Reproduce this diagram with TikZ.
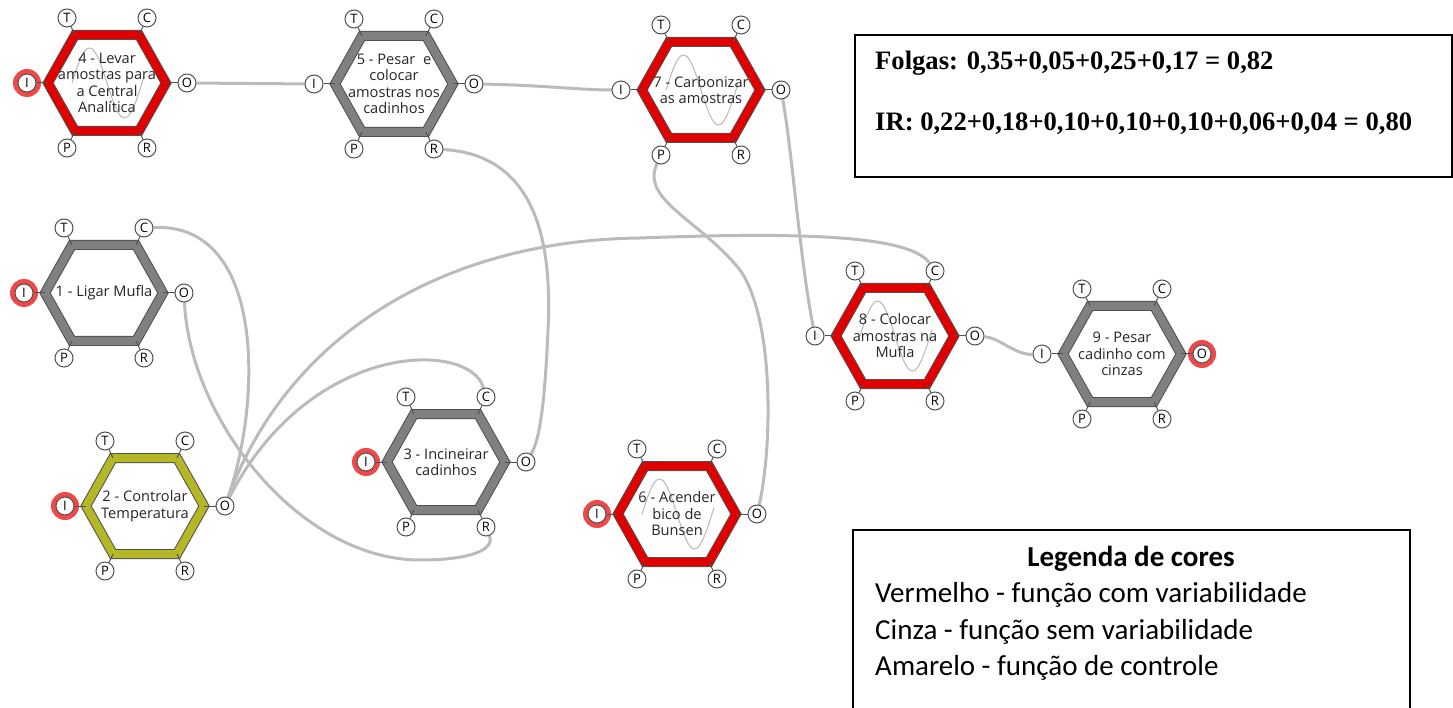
\documentclass[tikz,border=0pt]{standalone}
\usepackage{fontspec}
\setmainfont{Open Sans}
\newfontfamily\boxfont{Liberation Serif}
\newfontfamily\legfont{Carlito}
\pgfdeclarelayer{back}
\pgfsetlayers{back,main}

\definecolor{fnred}{RGB}{224,0,0}
\definecolor{fngray}{RGB}{128,128,128}
\definecolor{fnyellow}{RGB}{180,184,38}
\definecolor{edgegray}{RGB}{80,80,80}
\definecolor{linkgray}{RGB}{187,187,187}
\definecolor{ringred}{RGB}{240,72,72}

\tikzset{
  hexedge/.style={draw=edgegray, line width=1pt, double=#1, double distance=8pt,
    line join=miter, fill=white},
  port/.style={circle, draw=edgegray, fill=white, line width=1pt, minimum size=18pt,
    inner sep=0pt, font=\fontsize{13}{13}\selectfont},
  portlink/.style={draw=edgegray, line width=1pt},
  link/.style={draw=linkgray, line width=3pt},
  wave/.style={draw=black!28, line width=1pt},
  fntext/.style={align=center, font=\fontsize{14.6}{16.5}\selectfont, text=black!85},
  boxtext/.style={anchor=base west, inner sep=0pt, font=\boxfont\bfseries\fontsize{26.6}{30}\selectfont},
  legtext/.style={anchor=base west, inner sep=0pt, font=\legfont\fontsize{29}{33}\selectfont},
}

% one FRAM function: name, x, y, colour, wave (1/0), text
\newcommand\framfn[6]{%
  \begin{scope}[shift={(#2,#3)}]
    \draw[hexedge=#4] (-59,0) -- (-32,-48) -- (32,-48) -- (59,0) -- (32,48) -- (-32,48) -- cycle;
    \ifnum#5=1
      \draw[wave] plot[domain=-35:37, samples=40, smooth] (\x, {35*sin(\x*360/70)});
    \fi
    \node[fntext] (#1) at (0,0) {#6};
    \node[port] (#1I) at (-80,0) {I};
    \node[port] (#1O) at (80,0) {O};
    \node[port] (#1T) at (-40,-65) {T};
    \node[port] (#1C) at (40,-65) {C};
    \node[port] (#1P) at (-40,65) {P};
    \node[port] (#1R) at (40,65) {R};
    \draw[portlink] (#1I) -- (-59,0);
    \draw[portlink] (#1O) -- (59,0);
    \draw[portlink] (#1T) -- (-32,-48);
    \draw[portlink] (#1C) -- (32,-48);
    \draw[portlink] (#1P) -- (-32,48);
    \draw[portlink] (#1R) -- (32,48);
  \end{scope}}

\begin{document}
\begin{tikzpicture}[x=1pt, y=-1pt]
\useasboundingbox (0,0) rectangle (1453,708);

% Functions
\framfn{f4}{107}{83}{fnred}{1}{4 - Levar\\amostras para\\a Central\\Analítica}
\framfn{f5}{394}{84}{fngray}{0}{5 - Pesar\ \ e\\colocar\\amostras nos\\cadinhos}
\framfn{f7}{701}{90}{fnred}{1}{7 - Carbonizar\\as amostras}
\framfn{f1}{104}{293}{fngray}{0}{1 - Ligar Mufla}
\framfn{f2}{145}{506}{fnyellow}{0}{2 - Controlar\\Temperatura}
\framfn{f3}{446}{462}{fngray}{0}{3 - Incineirar\\cadinhos}
\framfn{f6}{677}{514}{fnred}{1}{6 - Acender\\bico de\\Bunsen}
\framfn{f8}{895}{336}{fnred}{1}{8 - Colocar\\amostras na\\Mufla}
\framfn{f9}{1122}{354}{fngray}{0}{9 - Pesar\\cadinho com\\cinzas}

\begin{pgfonlayer}{back}
% Red rings on the open ports
\foreach \p in {f4I,f1I,f2I,f3I,f6I,f9O}
  \fill[ringred] (\p) circle (14);

% Couplings
\draw[link] (f4O) -- (f5I);
\draw[link] (f5O) .. controls (540,85) and (580,90) .. (f7I);
\draw[link] (f5R) .. controls (540,155) and (552,250) .. (548,330)
  .. controls (545,400) and (540,440) .. (f3O);
\draw[link] (f7O) .. controls (792,150) and (800,260) .. (f8I);
\draw[link] (f7P) .. controls (640,200) and (700,220) .. (740,270)
  .. controls (775,320) and (772,450) .. (f6O);
\draw[link] (f8O) .. controls (1000,338) and (1015,355) .. (f9I);
\draw[link] (f2O) .. controls (290,330) and (450,240) .. (640,238)
  .. controls (800,232) and (910,235) .. (f8C);
\draw[link] (f1C) .. controls (265,222) and (262,400) .. (f2O);
\draw[link] (f3C) .. controls (470,340) and (310,340) .. (f2O);
\draw[link] (f1O) .. controls (190,420) and (300,560) .. (420,560)
  .. controls (470,560) and (495,550) .. (f3R);
\end{pgfonlayer}

% Sums box
\draw[line width=1.5pt] (855,35) rectangle (1452,177);
\node[boxtext] (folgas) at (875,70) {Folgas: 0,35+0,05+0,25+0,17 = 0,82};
\node[boxtext] (ir) at (875,131) {IR: 0,22+0,18+0,10+0,10+0,10+0,06+0,04 = 0,80};

% Colour legend
\draw[line width=1.5pt] (853,708) -- (853,530) -- (1410,530) -- (1410,708);
\node[legtext, anchor=base, font=\legfont\bfseries\fontsize{29}{33}\selectfont] (legtitle)
  at (1131,566) {Legenda de cores};
\node[legtext] (legred) at (875,602) {Vermelho - função com variabilidade};
\node[legtext] (leggray) at (875,639) {Cinza - função sem variabilidade};
\node[legtext] (legyellow) at (875,675) {Amarelo - função de controle};
\end{tikzpicture}
\end{document}
